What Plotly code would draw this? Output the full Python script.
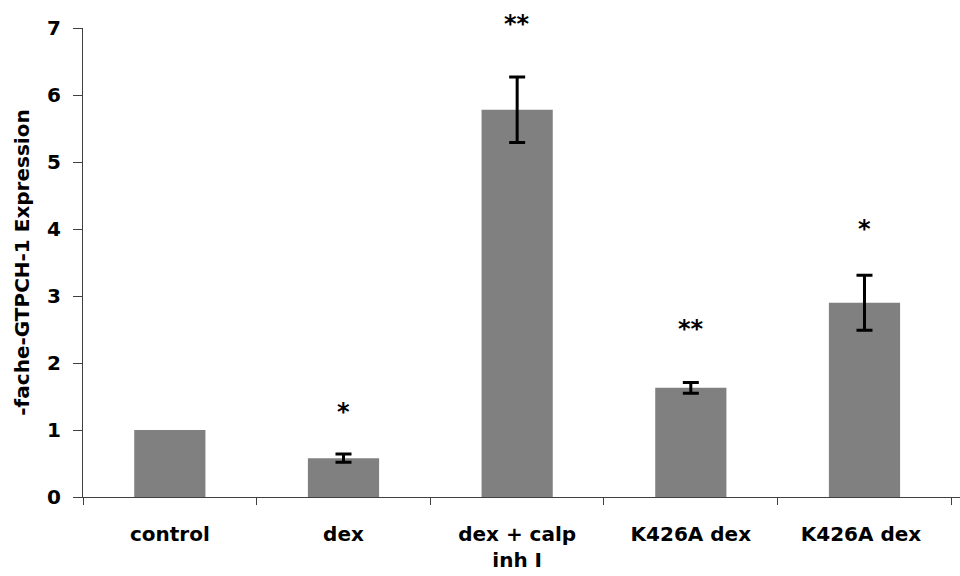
import plotly.graph_objects as go

categories = ["control", "dex", "dex + calp<br>inh I", "K426A dex", "K426A dex "]
expression = [1.0, 0.58, 5.78, 1.63, 2.90]
errors = [0.06, 0.49, 0.08, 0.41]          # treated groups only (control has none)
significance = ["", "*", "**", "**", "*"]
marker_heights = [0.0, 1.27, 7.06, 2.51, 4.0]

Y_MAX = 7
FAMILY = "DejaVu Sans, Liberation Sans, Arial, sans-serif"
FONT = dict(family=FAMILY, size=20, color="black", weight="bold")

fig = go.Figure()
fig.add_trace(go.Bar(
    x=categories,
    y=expression,
    marker=dict(color="#808080", line=dict(width=0)),
    showlegend=False,
))
# error bars for the treated groups
fig.add_trace(go.Scatter(
    x=categories[1:],
    y=expression[1:],
    mode="markers",
    marker=dict(size=1, color="rgba(0,0,0,0)"),
    error_y=dict(type="data", array=errors, visible=True, color="black",
                 thickness=3, width=8),
    showlegend=False,
    hoverinfo="skip",
))

# significance stars above the bars
for cat, mark, h in zip(categories, significance, marker_heights):
    if mark:
        fig.add_annotation(
            x=cat, y=h / Y_MAX, xref="x", yref="paper", text=mark, showarrow=False,
            yanchor="middle", xanchor="center",
            font=dict(family=FAMILY, size=24, color="black", weight="bold"),
        )

fig.update_layout(
    width=960, height=576,
    margin=dict(l=83, r=0, t=28, b=79),
    paper_bgcolor="white", plot_bgcolor="white",
    bargap=0.59,
    font=FONT,
)
fig.update_xaxes(
    type="category",
    range=[-0.5, 4.55],
    showline=True, linecolor="#404040", linewidth=1,
    ticks="outside", tickson="boundaries", ticklen=7, tickcolor="#404040",
    tickfont=FONT, ticklabelstandoff=19,
    showgrid=False, zeroline=False,
)
fig.update_yaxes(
    range=[0, Y_MAX], dtick=1,
    showline=True, linecolor="#404040", linewidth=1,
    ticks="outside", ticklen=9, tickcolor="#404040",
    tickfont=FONT, ticklabelstandoff=8,
    showgrid=False, zeroline=False,
    title=dict(text="-fache-GTPCH-1 Expression", font=FONT, standoff=12),
)

fig.write_html("out.html")
